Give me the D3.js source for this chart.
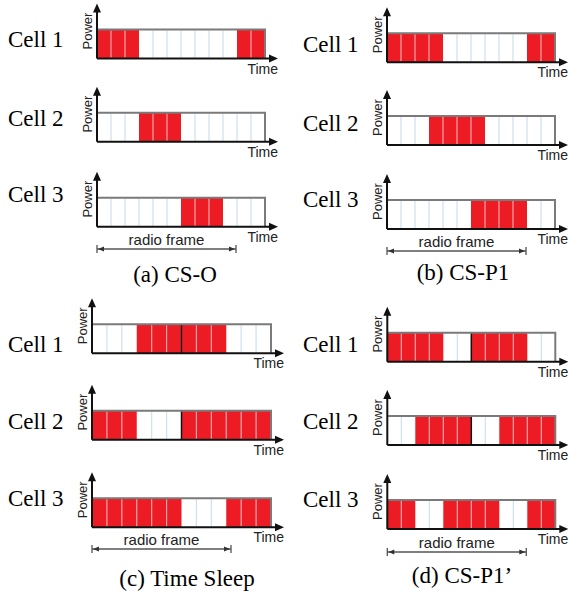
<!DOCTYPE html>
<html>
<head>
<meta charset="utf-8">
<script src="https://cdn.jsdelivr.net/npm/d3@7"></script>
<style>
  body { margin: 0; background: #fff; }
  svg { display: block; }
  .serif { font-family: "Liberation Serif", "Times New Roman", serif; fill: #000; }
  .sans { font-family: "Liberation Sans", Arial, sans-serif; fill: #222; }
</style>
</head>
<body>
<svg id="root"></svg>
<script>
  // slot states per cell (1 = transmitting, 0 = idle), 12 subframes each
  const cellNames = ["Cell 1", "Cell 2", "Cell 3"];
  const captions = ["(a) CS-O", "(b) CS-P1", "(c) Time Sleep", "(d) CS-P1\u2019"];

  const csO = [
    [1, 1, 1, 0, 0, 0, 0, 0, 0, 0, 1, 1],
    [0, 0, 0, 1, 1, 1, 0, 0, 0, 0, 0, 0],
    [0, 0, 0, 0, 0, 0, 1, 1, 1, 0, 0, 0]
  ];
  const csP1 = [
    [1, 1, 1, 1, 0, 0, 0, 0, 0, 0, 1, 1],
    [0, 0, 0, 1, 1, 1, 1, 0, 0, 0, 0, 0],
    [0, 0, 0, 0, 0, 0, 1, 1, 1, 1, 0, 0]
  ];
  const timeSleep = [
    [0, 0, 0, 1, 1, 1, 1, 1, 1, 0, 0, 0],
    [1, 1, 1, 0, 0, 0, 1, 1, 1, 1, 1, 1],
    [1, 1, 1, 1, 1, 1, 0, 0, 0, 1, 1, 1]
  ];
  const csP1b = [
    [1, 1, 1, 1, 0, 0, 1, 1, 1, 1, 0, 0],
    [0, 0, 1, 1, 1, 1, 0, 0, 1, 1, 1, 1],
    [1, 1, 0, 0, 1, 1, 1, 1, 0, 0, 1, 1]
  ];
  // which cells show the half-frame boundary line
  const halfMarks = [
    [false, false, false],
    [false, false, false],
    [true, true, false],
    [true, true, false]
  ];
  const schedules = [csO, csP1, timeSleep, csP1b];

  const W = 570, H = 594;
  const svg = d3.select("#root").attr("width", W).attr("height", H);

  // layout per panel
  const panels = [
    { axisX: 97, width: 168, tops: [29.5, 112.7, 197.7], labels: [47, 126, 202], labelX: 8,
      frameY: 249, capY: 282, capX: 175 },
    { axisX: 387, width: 168, tops: [33.3, 116, 200], labels: [52, 131, 207], labelX: 303,
      frameY: 251, capY: 280, capX: 463 },
    { axisX: 92, width: 179, tops: [324.3, 410.7, 498.3], labels: [352, 429, 506], labelX: 8,
      frameY: 549, capY: 586, capX: 187 },
    { axisX: 387.3, width: 168, tops: [332.7, 416, 500], labels: [352, 429, 507], labelX: 303,
      frameY: 552, capY: 583, capX: 462 }
  ];
  const boxH = 29;

  const red = "#ed1c24";

  schedules.forEach((sched, p) => {
    let L = panels[p];
    let g = svg.append("g");

    let x = d3.scaleLinear().domain([0, 12]).range([L.axisX, L.axisX + L.width]);

    sched.forEach((states, c) => {
      let top = L.tops[c];
      let y = d3.scaleLinear().domain([0, 1]).range([top + boxH, top]);
      let cg = g.append("g");

      cg.append("rect")
        .attr("x", x(0)).attr("y", y(1))
        .attr("width", x(12) - x(0)).attr("height", y(0) - y(1))
        .attr("fill", "#fff");

      cg.selectAll(".slot")
        .data(states.map((s, i) => ({ s, i })).filter(d => d.s))
        .enter().append("rect")
        .attr("class", "slot")
        .attr("x", d => x(d.i)).attr("y", y(1))
        .attr("width", x(1) - x(0)).attr("height", y(0) - y(1))
        .attr("fill", red);

      // subframe dividers
      let bounds = d3.range(1, 12).filter(i => states[i - 1] === states[i]);
      cg.selectAll(".div")
        .data(bounds)
        .enter().append("line")
        .attr("x1", d => x(d)).attr("x2", d => x(d))
        .attr("y1", y(1) + 1).attr("y2", y(0) - 1)
        .attr("stroke", d => states[d] ? "#f0a3aa" : "#cfe0f0")
        .attr("stroke-width", 1.2);

      if (halfMarks[p][c]) {
        cg.append("line")
          .attr("x1", x(6)).attr("x2", x(6))
          .attr("y1", y(1)).attr("y2", y(0))
          .attr("stroke", "#111").attr("stroke-width", 1.5);
      }

      // box top and right edge
      cg.append("path")
        .attr("d", `M${x(0)},${y(1)}H${x(12)}V${y(0)}`)
        .attr("fill", "none").attr("stroke", "#7a7a7a").attr("stroke-width", 2);

      // axes
      let tipY = top - 26, tipX = x(12) + 13;
      cg.append("path")
        .attr("d", `M${x(0)},${y(0)}V${tipY + 6}M${x(0)},${y(0)}H${tipX - 6}`)
        .attr("fill", "none").attr("stroke", "#111").attr("stroke-width", 2);
      cg.append("path")
        .attr("d", `M${x(0)},${tipY}l-4,9h8z M${tipX},${y(0)}l-9,-4v8z`)
        .attr("fill", "#111");

      cg.append("text")
        .attr("class", "sans")
        .attr("transform", `translate(${x(0) - 5},${(tipY + y(0)) / 2}) rotate(-90)`)
        .attr("text-anchor", "middle")
        .style("font-size", "13px")
        .text("Power");

      cg.append("text")
        .attr("class", "sans")
        .attr("x", tipX).attr("y", y(0) + 15)
        .attr("text-anchor", "end")
        .style("font-size", "14px")
        .text("Time");

      cg.append("text")
        .attr("class", "serif")
        .attr("x", L.labelX).attr("y", L.labels[c])
        .style("font-size", "23px")
        .text(cellNames[c]);
    });

    // radio frame marker
    let fx0 = L.axisX, fx1 = L.axisX + 139, fy = L.frameY;
    g.append("path")
      .attr("d", `M${fx0},${fy}H${fx1}M${fx0},${fy - 4}V${fy + 4}M${fx1},${fy - 4}V${fy + 4}`)
      .attr("fill", "none").attr("stroke", "#555").attr("stroke-width", 1.3);
    g.append("path")
      .attr("d", `M${fx0 + 1},${fy}l6,-2.5v5z M${fx1 - 1},${fy}l-6,-2.5v5z`)
      .attr("fill", "#333");
    g.append("text")
      .attr("class", "sans")
      .attr("x", (fx0 + fx1) / 2).attr("y", fy - 4)
      .attr("text-anchor", "middle")
      .style("font-size", "15px")
      .text("radio frame");

    g.append("text")
      .attr("class", "serif")
      .attr("x", L.capX).attr("y", L.capY)
      .attr("text-anchor", "middle")
      .style("font-size", "23px")
      .text(captions[p]);
  });
</script>
</body>
</html>
